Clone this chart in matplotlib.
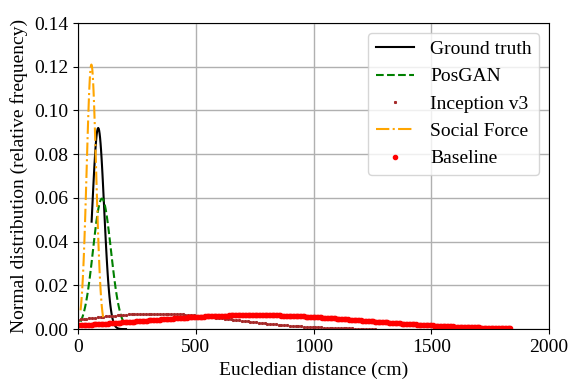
import numpy as np
import matplotlib.pyplot as plt

plt.rcParams['font.family'] = ['Liberation Serif', 'DejaVu Serif']
plt.rcParams['font.size'] = 14

# normal curves: mean, sigma, peak height, data range (cm)
names = ['Ground truth', 'PosGAN', 'Inception v3', 'Social Force', 'Baseline']
means = [86, 102, 330, 57, 750]
sigmas = [25, 38, 330, 20, 460]
peaks = [0.092, 0.0597, 0.0071, 0.121, 0.0064]
x_min = [58, 11, 0, 11, 0]
x_max = [205, 200, 1268, 108, 1841]
steps = [2, 2, 12, 1, 6]

styles = [
    dict(color='black', linestyle='-', linewidth=1.5),
    dict(color='green', linestyle='--', linewidth=1.5),
    dict(color='brown', linestyle='none', marker='s', markersize=1.2),
    dict(color='orange', linestyle='-.', linewidth=1.5),
    dict(color='red', linestyle='none', marker='.', markersize=6),
]

fig, ax = plt.subplots(figsize=(5.69, 3.84), dpi=100)
fig.subplots_adjust(left=0.137, right=0.965, top=0.94, bottom=0.143)

for i in range(len(names)):
    x = np.arange(x_min[i], x_max[i] + 0.1, steps[i])
    y = peaks[i] * np.exp(-0.5 * ((x - means[i]) / sigmas[i]) ** 2)
    ax.plot(x, y, label=names[i], **styles[i])

ax.set_xlim(0, 2000)
ax.set_ylim(0, 0.14)
ax.set_xticks([0, 500, 1000, 1500, 2000])
ax.set_yticks(np.arange(0, 0.141, 0.02))
ax.set_xlabel('Eucledian distance (cm)')
ax.set_ylabel('Normal distribution (relative frequency)')
ax.grid(True, color='#b0b0b0', linewidth=1)
ax.set_axisbelow(True)
ax.legend(loc='upper right')

plt.savefig('out.png', dpi=100)
